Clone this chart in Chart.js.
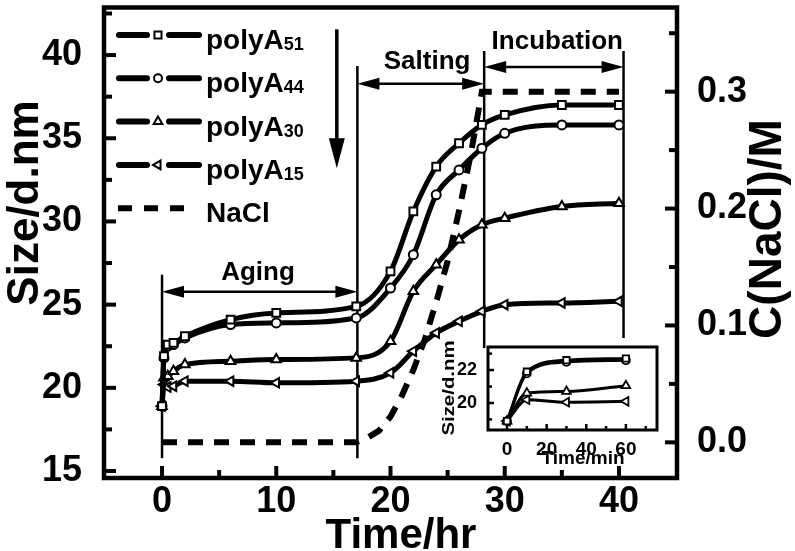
<!DOCTYPE html>
<html>
<head>
<meta charset="utf-8">
<script src="https://cdn.jsdelivr.net/npm/chart.js@4.4.1/dist/chart.umd.min.js"></script>
<style>
  html, body { margin: 0; padding: 0; background: #fff; }
  #wrap { position: relative; width: 795px; height: 551px; }
  #main { position: absolute; left: 0; top: 0; }
  #inset { position: absolute; left: 440px; top: 336px; }
</style>
</head>
<body>
<div id="wrap">
  <canvas id="main" width="795" height="551"></canvas>
  <canvas id="inset" width="232" height="140"></canvas>
</div>
<script>
// ---- values ----
const timeHr  = [0, 0.17, 0.5, 1, 2, 6, 10, 17, 20, 22, 24, 26, 28, 30, 35, 40];
const polyA51 = [18.9, 21.9, 22.6, 22.7, 23.1, 24.1, 24.5, 24.9, 27.0, 30.6, 33.3, 34.7, 35.8, 36.4, 37.0, 37.0];
const polyA44 = [18.9, 21.8, 22.5, 22.6, 23.0, 23.8, 23.9, 24.2, 26.0, 28.0, 31.6, 33.1, 34.4, 35.3, 35.8, 35.8];
const polyA30 = [18.9, 20.6, 20.7, 21.0, 21.4, 21.6, 21.7, 21.8, 22.8, 25.8, 27.4, 28.9, 29.8, 30.2, 30.9, 31.1];
const polyA15 = [18.9, 20.2, 20.05, 20.1, 20.4, 20.4, 20.3, 20.4, 20.9, 22.2, 23.3, 24.0, 24.6, 25.0, 25.1, 25.2];

const naclTime = [0, 17, 18, 19, 20, 21, 22, 23, 24, 25, 26, 27, 28, 30, 35, 40];
const naclConc = [0, 0, 0.004, 0.01, 0.022, 0.04, 0.062, 0.088, 0.12, 0.155, 0.198, 0.245, 0.3, 0.3, 0.3, 0.3];

const xTicks = [0, 10, 20, 30, 40];
const xMinor = [5, 15, 25, 35];
const sizeTicks = [15, 20, 25, 30, 35, 40];
const sizeMinor = [17.5, 22.5, 27.5, 32.5, 37.5, 42.5];
const naclTicks = [0, 0.1, 0.2, 0.3];
const naclMinor = [0.05, 0.15, 0.25, 0.35];

// inset: first hour, in minutes
const timeMin = [0, 10, 30, 60];
const inA51 = [18.9, 21.9, 22.6, 22.7];
const inA44 = [18.9, 21.8, 22.5, 22.6];
const inA30 = [18.9, 20.6, 20.7, 21.05];
const inA15 = [18.9, 20.2, 20.05, 20.1];
const minTicks = [0, 20, 40, 60];
const minMinor = [10, 30, 50, 70];
const inSizeTicks = [20, 22];
const inSizeMinor = [19, 21, 23];

// phase boundaries (hr)
const phaseEdges = [0, 17.1, 28.2, 40.4];

const FONT = '"Liberation Sans", Arial, sans-serif';
Chart.defaults.font.family = FONT;
Chart.defaults.color = '#000';

const pts = (xs, ys) => xs.map((x, i) => ({ x: x, y: ys[i] }));
const fixTicks = list => scale => { scale.ticks = list.map(v => ({ value: v })); };

function seriesDs(label, sub, xs, ys, style, rot, r) {
  return {
    label: label, legendSub: sub, data: pts(xs, ys), yAxisID: 'y',
    borderColor: '#000', borderWidth: 5,
    pointStyle: style, pointRotation: rot, pointRadius: r,
    pointBackgroundColor: '#fff', pointBorderColor: '#000', pointBorderWidth: 2,
    cubicInterpolationMode: 'monotone', fill: false
  };
}

function inwardTicks(ctx, scale, values, len, side) {
  values.forEach(v => {
    const p = scale.getPixelForValue(v);
    ctx.beginPath();
    if (side === 'left') { ctx.moveTo(scale.right, p); ctx.lineTo(scale.right + len, p); }
    if (side === 'right') { ctx.moveTo(scale.left, p); ctx.lineTo(scale.left - len, p); }
    if (side === 'bottom') { ctx.moveTo(p, scale.top); ctx.lineTo(p, scale.top - len); }
    ctx.stroke();
  });
}

function arrowHead(ctx, x, y, dx, dy, len, half) {
  // tip at (x,y), pointing along (dx,dy)
  ctx.beginPath();
  ctx.moveTo(x, y);
  ctx.lineTo(x - dx * len - dy * half, y - dy * len + dx * half);
  ctx.lineTo(x - dx * len + dy * half, y - dy * len - dx * half);
  ctx.closePath();
  ctx.fill();
}

function spanArrow(ctx, x1, x2, y) {
  ctx.lineWidth = 2.5;
  ctx.beginPath(); ctx.moveTo(x1 + 10, y); ctx.lineTo(x2 - 10, y); ctx.stroke();
  arrowHead(ctx, x1, y, -1, 0, 22, 6);
  arrowHead(ctx, x2, y, 1, 0, 22, 6);
}

const mainDecor = {
  id: 'mainDecor',
  beforeDatasetsDraw(chart) {
    const ctx = chart.ctx, x = chart.scales.x, y = chart.scales.y;
    ctx.save();
    ctx.strokeStyle = '#000';
    ctx.lineWidth = 2.5;
    // phase boundary lines: [x, top size, bottom size]
    const spans = [[phaseEdges[0], 26.8, 15.77], [phaseEdges[1], 39.35, 15.77],
                   [phaseEdges[2], 40.24, 22.4], [phaseEdges[3], 40.24, 23.0]];
    spans.forEach(s => {
      const px = x.getPixelForValue(s[0]);
      ctx.beginPath();
      ctx.moveTo(px, y.getPixelForValue(s[1]));
      ctx.lineTo(px, y.getPixelForValue(s[2]));
      ctx.stroke();
    });
    ctx.fillStyle = '#000';
    const px = v => x.getPixelForValue(v);
    spanArrow(ctx, px(phaseEdges[0]), px(phaseEdges[1]), y.getPixelForValue(25.77));
    spanArrow(ctx, px(phaseEdges[1]), px(phaseEdges[2]), y.getPixelForValue(38.27));
    spanArrow(ctx, px(phaseEdges[2]), px(phaseEdges[3]), y.getPixelForValue(39.29));
    ctx.font = 'bold 26px ' + FONT;
    ctx.textAlign = 'center';
    ctx.textBaseline = 'alphabetic';
    ctx.fillText('Aging', px(8.4), y.getPixelForValue(26.5));
    ctx.fillText('Salting', px(23.2), y.getPixelForValue(39.17));
    ctx.fillText('Incubation', px(34.6), y.getPixelForValue(40.36));
    ctx.restore();
  },
  afterDraw(chart) {
    const ctx = chart.ctx, a = chart.chartArea, s = chart.scales;
    ctx.save();
    ctx.strokeStyle = '#000';
    ctx.fillStyle = '#000';
    // inward ticks
    ctx.lineWidth = 4;
    inwardTicks(ctx, s.y, sizeTicks, 12, 'left');
    inwardTicks(ctx, s.y, sizeMinor, 8, 'left');
    inwardTicks(ctx, s.y2, naclTicks, 12, 'right');
    inwardTicks(ctx, s.y2, naclMinor, 8, 'right');
    inwardTicks(ctx, s.x, xTicks, 12, 'bottom');
    inwardTicks(ctx, s.x, xMinor, 8, 'bottom');
    // frame
    ctx.lineWidth = 4.5;
    ctx.strokeRect(a.left, a.top, a.right - a.left, a.bottom - a.top);

    // legend
    const ds = chart.data.datasets;
    ds.forEach((d, i) => {
      const ly = 35 + i * 43.3;
      ctx.strokeStyle = '#000';
      ctx.lineCap = 'round';
      ctx.lineWidth = 6;
      if (d.borderDash) {
        ctx.setLineDash([14, 12]);
        ctx.lineCap = 'butt';
        ctx.beginPath(); ctx.moveTo(118, ly); ctx.lineTo(196, ly); ctx.stroke();
        ctx.setLineDash([]);
      } else {
        ctx.beginPath(); ctx.moveTo(119, ly); ctx.lineTo(147, ly); ctx.stroke();
        ctx.beginPath(); ctx.moveTo(169, ly); ctx.lineTo(199, ly); ctx.stroke();
        ctx.fillStyle = '#fff';
        ctx.lineWidth = 2;
        ctx.lineCap = 'butt';
        Chart.helpers.drawPoint(ctx, { pointStyle: d.pointStyle, rotation: d.pointRotation,
          radius: d.pointRadius - 0.5, borderWidth: 2 }, 158, ly);
      }
      ctx.fillStyle = '#000';
      ctx.textAlign = 'left';
      ctx.textBaseline = 'alphabetic';
      ctx.font = 'bold 28px ' + FONT;
      ctx.fillText(d.label, 206, ly + 14);
      if (d.legendSub) {
        const w = ctx.measureText(d.label).width;
        ctx.font = 'bold 18px ' + FONT;
        ctx.fillText(d.legendSub, 206 + w, ly + 15);
      }
    });
    // "decreasing length" arrow
    const ax = s.x.getPixelForValue(15.3);
    ctx.lineWidth = 3.5;
    ctx.lineCap = 'butt';
    ctx.beginPath();
    ctx.moveTo(ax, s.y.getPixelForValue(41.55));
    ctx.lineTo(ax, s.y.getPixelForValue(34.2));
    ctx.stroke();
    arrowHead(ctx, ax, s.y.getPixelForValue(33.2), 0, 1, 30, 8);

    // axis titles
    ctx.font = 'bold 42px ' + FONT;
    ctx.textAlign = 'center';
    ctx.textBaseline = 'alphabetic';
    ctx.fillText('Time/hr', 401, 548);
    ctx.save();
    ctx.font = 'bold 44px ' + FONT;
    ctx.translate(38, 203);
    ctx.rotate(-Math.PI / 2);
    ctx.fillText('Size/d.nm', 0, 0);
    ctx.restore();
    ctx.save();
    ctx.font = 'bold 46px ' + FONT;
    ctx.translate(781, 229);
    ctx.rotate(-Math.PI / 2);
    ctx.fillText('C(NaCl)/M', 0, 0);
    ctx.restore();
    ctx.restore();
  }
};

const noPad = w => scale => {
  if (w.width) scale.width = w.width;
  if (w.height) scale.height = w.height;
  scale.paddingTop = 0; scale.paddingBottom = 0;
  scale.paddingLeft = 0; scale.paddingRight = 0;
};

new Chart(document.getElementById('main'), {
  type: 'line',
  data: {
    datasets: [
      seriesDs('polyA', '51', timeHr, polyA51, 'rect', 0, 5.5),
      seriesDs('polyA', '44', timeHr, polyA44, 'circle', 0, 4.5),
      seriesDs('polyA', '30', timeHr, polyA30, 'triangle', 0, 5.5),
      seriesDs('polyA', '15', timeHr, polyA15, 'triangle', -90, 5.5),
      {
        label: 'NaCl', data: pts(naclTime, naclConc), yAxisID: 'y2',
        borderColor: '#000', borderWidth: 6, borderDash: [15, 11],
        pointRadius: 0, tension: 0, fill: false
      }
    ]
  },
  options: {
    responsive: false,
    animation: false,
    layout: { padding: { top: 3 } },
    plugins: { legend: { display: false }, tooltip: { enabled: false } },
    scales: {
      x: {
        type: 'linear', position: 'bottom', min: -5.08, max: 45.08,
        afterBuildTicks: fixTicks(xTicks),
        afterFit: noPad({ height: 73 }),
        grid: { display: false }, border: { display: false },
        ticks: { font: { size: 36, weight: 'bold', lineHeight: 1 }, padding: -2, maxRotation: 0 }
      },
      y: {
        type: 'linear', position: 'left', min: 14.58, max: 42.86,
        afterBuildTicks: fixTicks(sizeTicks),
        afterFit: noPad({ width: 104 }),
        grid: { display: false }, border: { display: false },
        ticks: { font: { size: 36, weight: 'bold', lineHeight: 1 }, padding: 14 }
      },
      y2: {
        type: 'linear', position: 'right', min: -0.0305, max: 0.372,
        afterBuildTicks: fixTicks(naclTicks),
        afterFit: noPad({ width: 118 }),
        grid: { display: false }, border: { display: false },
        ticks: { font: { size: 36, weight: 'bold', lineHeight: 1 }, padding: 12,
                 callback: v => v.toFixed(1) }
      }
    }
  },
  plugins: [mainDecor]
});

// ---- inset ----
const insetDecor = {
  id: 'insetDecor',
  beforeDraw(chart) {
    const ctx = chart.ctx, a = chart.chartArea;
    ctx.save();
    ctx.fillStyle = '#fff';
    ctx.fillRect(a.left, a.top, a.right - a.left, a.bottom - a.top);
    ctx.restore();
  },
  afterDraw(chart) {
    const ctx = chart.ctx, a = chart.chartArea, s = chart.scales;
    ctx.save();
    ctx.strokeStyle = '#000';
    ctx.fillStyle = '#000';
    ctx.lineWidth = 2.5;
    inwardTicks(ctx, s.y, inSizeTicks, 6, 'left');
    inwardTicks(ctx, s.y, inSizeMinor, 4, 'left');
    inwardTicks(ctx, s.x, minTicks, 6, 'bottom');
    inwardTicks(ctx, s.x, minMinor, 4, 'bottom');
    ctx.lineWidth = 3;
    ctx.strokeRect(a.left, a.top, a.right - a.left, a.bottom - a.top);
    ctx.font = 'bold 19px ' + FONT;
    ctx.textAlign = 'center';
    ctx.textBaseline = 'alphabetic';
    ctx.fillText('Time/min', 143, 128);
    ctx.translate(14, 52);
    ctx.rotate(-Math.PI / 2);
    ctx.scale(1.2, 1);
    ctx.font = 'bold 17px ' + FONT;
    ctx.fillText('Size/d.nm', 0, 0);
    ctx.restore();
  }
};

function insetDs(ys, style, rot, r) {
  return {
    data: pts(timeMin, ys), borderColor: '#000', borderWidth: 3,
    pointStyle: style, pointRotation: rot, pointRadius: r,
    pointBackgroundColor: '#fff', pointBorderColor: '#000', pointBorderWidth: 1.8,
    cubicInterpolationMode: 'monotone', fill: false
  };
}

new Chart(document.getElementById('inset'), {
  type: 'line',
  data: {
    datasets: [
      insetDs(inA51, 'rect', 0, 4.5),
      insetDs(inA44, 'circle', 0, 4),
      insetDs(inA30, 'triangle', 0, 5),
      insetDs(inA15, 'triangle', -90, 5)
    ]
  },
  options: {
    responsive: false,
    animation: false,
    layout: { padding: { top: 11, right: 15 } },
    plugins: { legend: { display: false }, tooltip: { enabled: false } },
    scales: {
      x: {
        type: 'linear', min: -9.6, max: 75.7,
        afterBuildTicks: fixTicks(minTicks),
        afterFit: noPad({ height: 46 }),
        grid: { display: false }, border: { display: false },
        ticks: { font: { size: 19, weight: 'bold', lineHeight: 1 }, padding: 2, maxRotation: 0 }
      },
      y: {
        type: 'linear', min: 18.36, max: 23.4,
        afterBuildTicks: fixTicks(inSizeTicks),
        afterFit: noPad({ width: 48 }),
        grid: { display: false }, border: { display: false },
        ticks: { font: { size: 18, weight: 'bold', lineHeight: 1 }, padding: 3 }
      }
    }
  },
  plugins: [insetDecor]
});
</script>
</body>
</html>
